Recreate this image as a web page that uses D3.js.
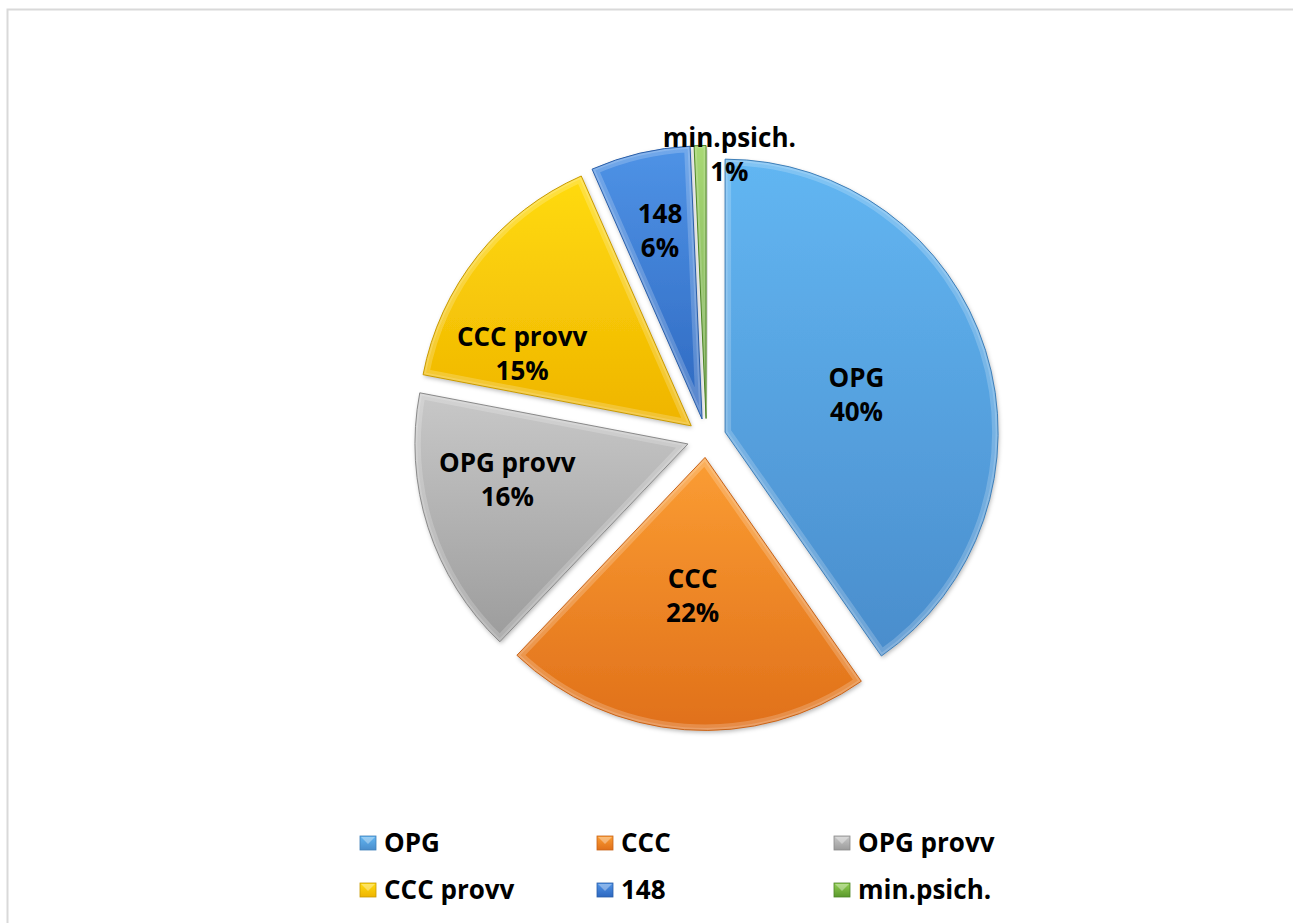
<!DOCTYPE html>
<html>
<head>
<meta charset="utf-8">
<script src="https://cdn.jsdelivr.net/npm/d3@7"></script>
<style>
  html, body { margin: 0; padding: 0; background: #ffffff; }
  svg { display: block; }
  text { font-family: "Open Sans", "DejaVu Sans", sans-serif; font-weight: 700; fill: #000; }
</style>
</head>
<body>
<svg id="chart" width="1293" height="923"></svg>
<script>
// ---- data ----
const categories = ["OPG", "CCC", "OPG provv", "CCC provv", "148", "min.psich."];
const values = [40.3, 21.8, 15.9, 15.4, 5.9, 0.7];   // percent
const percentLabels = ["40%", "22%", "16%", "15%", "6%", "1%"];

// ---- styling ----
const colorsTop = ["#62b6f2", "#fb9d33", "#c8c8c8", "#ffdb10", "#4f93e6", "#92cf52"];
const colorsBottom = ["#4a8dcc", "#e0701a", "#9c9c9c", "#efb400", "#2e68c0", "#5a982c"];
const strokeColors = ["#3f7fb8", "#c8641a", "#8a8a8a", "#c99a00", "#2a5ea8", "#4d8426"];
// label placement (fraction of radius, angular nudge in degrees)
const labelPlacement = [[0.5, 1.7], [0.51, 0.8], [0.675, 6.5], [0.673, -15.5], [0.705, 0.5], [0.97, 6.3]];

const svg = d3.select("#chart");
const W = 1293, H = 923;

// chart frame
svg.append("rect").attr("x", 7.5).attr("y", 9.5).attr("width", W + 20).attr("height", H + 20)
  .attr("fill", "#fff").attr("stroke", "#d9d9d9").attr("stroke-width", 2);

const defs = svg.append("defs");
const shadow = defs.append("filter").attr("id", "shadow").attr("x", "-10%").attr("y", "-10%").attr("width", "120%").attr("height", "120%");
shadow.append("feDropShadow").attr("dx", 1).attr("dy", 2).attr("stdDeviation", 2).attr("flood-color", "#000").attr("flood-opacity", 0.28);

categories.forEach((c, i) => {
  const g = defs.append("linearGradient").attr("id", "grad" + i)
    .attr("x1", 0).attr("y1", 0).attr("x2", 0).attr("y2", 1);
  g.append("stop").attr("offset", "0%").attr("stop-color", colorsTop[i]);
  g.append("stop").attr("offset", "100%").attr("stop-color", colorsBottom[i]);
});

const cx = 706.5, cy = 438, R = 273, explode = 19.5;

const pie = d3.pie().sort(null).value(d => d.value).startAngle(0).endAngle(2 * Math.PI);
const data = categories.map((c, i) => ({ name: c, value: values[i], label: percentLabels[i], i }));
const arcs = pie(data);
const arc = d3.arc().innerRadius(0).outerRadius(R);

const pieG = svg.append("g").attr("transform", `translate(${cx},${cy})`);

arcs.forEach((a, k) => {
  const i = a.data.i;
  const mid = (a.startAngle + a.endAngle) / 2;
  const ox = explode * Math.sin(mid), oy = -explode * Math.cos(mid);
  const g = pieG.append("g").attr("transform", `translate(${ox},${oy})`);
  const d = arc(a);
  defs.append("clipPath").attr("id", "clip" + i).append("path").attr("d", d);
  g.append("path").attr("d", d).attr("fill", `url(#grad${i})`).attr("filter", "url(#shadow)");
  // bevel highlight along inner edges
  g.append("path").attr("d", d).attr("fill", "none").attr("stroke", "#ffffff")
    .attr("stroke-opacity", 0.2).attr("stroke-width", 12).attr("stroke-linejoin", "round")
    .attr("clip-path", `url(#clip${i})`);
  g.append("path").attr("d", d).attr("fill", "none").attr("stroke", "#ffffff")
    .attr("stroke-opacity", 0.16).attr("stroke-width", 5).attr("stroke-linejoin", "round")
    .attr("clip-path", `url(#clip${i})`);
  g.append("path").attr("d", d).attr("fill", "none").attr("stroke", strokeColors[i])
    .attr("stroke-width", 1).attr("stroke-linejoin", "round");
});

// labels
const labelG = svg.append("g").attr("transform", `translate(${cx},${cy})`);
arcs.forEach(a => {
  const i = a.data.i;
  const mid = (a.startAngle + a.endAngle) / 2;
  const ox = explode * Math.sin(mid), oy = -explode * Math.cos(mid);
  const [f, nudge] = labelPlacement[i];
  const ang = mid + nudge * Math.PI / 180;
  const lx = ox + f * R * Math.sin(ang), ly = oy - f * R * Math.cos(ang);
  const t = labelG.append("text").attr("text-anchor", "middle").attr("font-size", 26);
  t.append("tspan").attr("x", lx).attr("y", ly - 17).attr("dy", "0.35em").text(a.data.name);
  t.append("tspan").attr("x", lx).attr("y", ly + 17).attr("dy", "0.35em").text(a.data.label);
});

// legend
const legendCols = [360, 597, 834];
const legendRows = [843, 890];
const lg = svg.append("g");
categories.forEach((c, i) => {
  const col = i % 3, row = Math.floor(i / 3);
  const x = legendCols[col], y = legendRows[row];
  lg.append("rect").attr("x", x).attr("y", y - 7).attr("width", 16).attr("height", 14)
    .attr("fill", `url(#grad${i})`).attr("stroke", strokeColors[i]).attr("stroke-width", 0.8);
  lg.append("path").attr("d", `M${x + 1},${y - 6} L${x + 15},${y - 6} L${x + 8},${y + 1} Z`)
    .attr("fill", "#fff").attr("fill-opacity", 0.35);
  lg.append("text").attr("x", x + 24).attr("y", y).attr("dy", "0.35em")
    .attr("font-size", 26).text(c);
});
</script>
</body>
</html>
